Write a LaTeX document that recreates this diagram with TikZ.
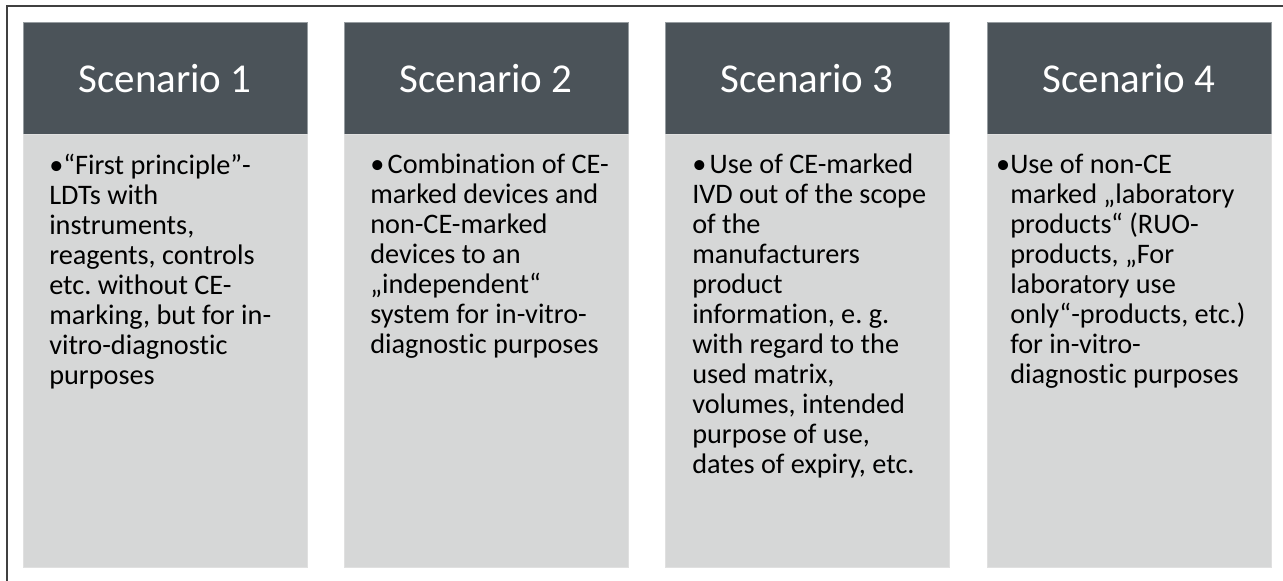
\documentclass[tikz,border=0pt]{standalone}
\usepackage{fontspec}
\setmainfont{Carlito}[Ligatures={NoCommon}]
\frenchspacing
\definecolor{headgray}{RGB}{75,83,89}
\definecolor{headedge}{RGB}{150,156,160}
\definecolor{bodygray}{RGB}{214,215,215}
\definecolor{bodyedge}{RGB}{224,224,224}
\definecolor{framegray}{RGB}{64,64,64}
\begin{document}
\begin{tikzpicture}[x=0.75pt,y=-0.75pt,
    headbox/.style={fill=headgray,draw=headedge,line width=0.75pt,minimum width=213pt,minimum height=84pt,inner sep=0pt,text=white,font=\fontsize{30.75}{36}\selectfont},
    bodybox/.style={fill=bodygray,draw=bodyedge,line width=0.75pt,minimum width=213pt,minimum height=324pt,inner sep=0pt},
    bodytext/.style={anchor=north west,inner sep=0pt,align=left,font=\fontsize{21.2}{22.5}\selectfont}]
    \useasboundingbox (0,0) rectangle (1283,581);
    % frame, only top and left side are seen
    \draw[framegray,line width=1.5pt] (6.5,581) -- (6.5,6.5) -- (1283,6.5);
    % four columns: dark head, light body
    \foreach \i/\cx in {1/165,2/486,3/807,4/1129}{
        \node[headbox] (head\i) at (\cx,79) {Scenario \i};
        \node[bodybox] (body\i) at (\cx,351) {};
    }
    % texts of the bodies
    \node[bodytext] (text1) at (49,154) {\textbullet``First principle''-\\LDTs with\\instruments,\\reagents, controls\\etc. without CE-\\marking, but for in-\\vitro-diagnostic\\purposes};
    \node[bodytext] (text2) at (370,154) {\textbullet\hspace{0.12em}Combination of CE-\\marked devices and\\non-CE-marked\\devices to an\\„independent“\\system for in-vitro-\\diagnostic purposes};
    \node[bodytext] (text3) at (692,154) {\textbullet\hspace{0.12em}Use of CE-marked\\IVD out of the scope\\of the\\manufacturers\\product\\information, e. g.\\with regard to the\\used matrix,\\volumes, intended\\purpose of use,\\dates of expiry, etc.};
    \node[bodytext] (text4) at (1010,154) {\llap{\textbullet}Use of non-CE\\marked „laboratory\\products“ (RUO-\\products, „For\\laboratory use\\only“-products, etc.)\\for in-vitro-\\diagnostic purposes};
\end{tikzpicture}
\end{document}
